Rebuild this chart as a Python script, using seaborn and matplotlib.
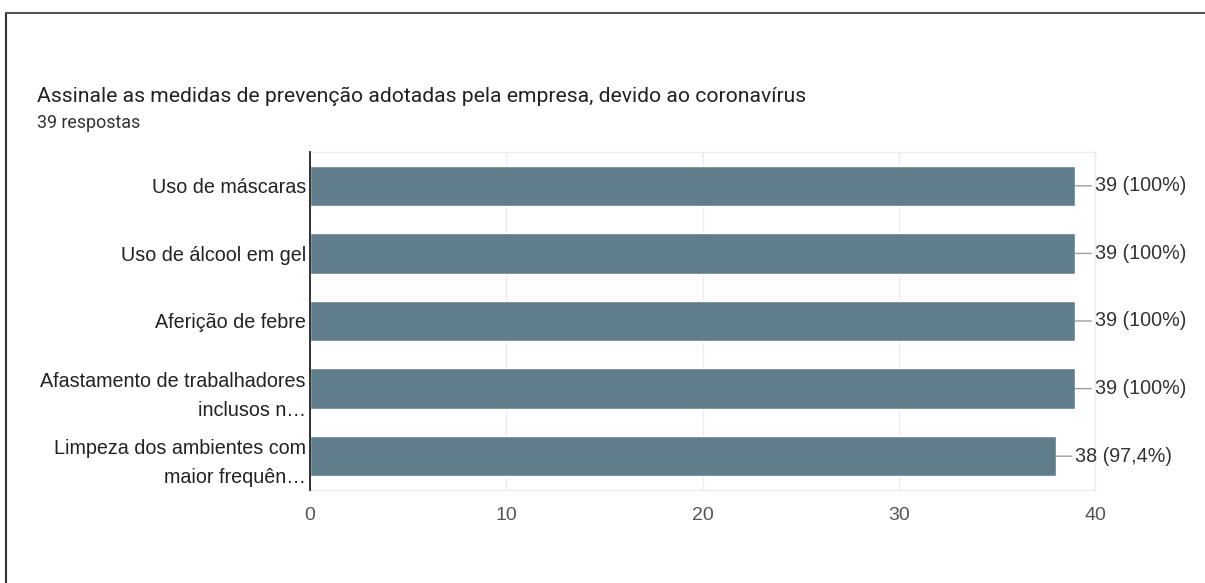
import matplotlib
matplotlib.use("Agg")
import matplotlib.pyplot as plt
import seaborn as sns
import pandas as pd
from matplotlib.lines import Line2D

title = "Assinale as medidas de prevenção adotadas pela empresa, devido ao coronavírus"
subtitle = "39 respostas"
total = 39
categories = [
    "Uso de máscaras",
    "Uso de álcool em gel",
    "Aferição de febre",
    "Afastamento de trabalhadores\ninclusos n…",
    "Limpeza dos ambientes com\nmaior frequên…",
]
counts = [39, 39, 39, 39, 38]
x_ticks = [0, 10, 20, 30, 40]

sns.set_theme(style="white")
plt.rcParams["font.family"] = ["Liberation Sans", "DejaVu Sans"]

df = pd.DataFrame({"medida": categories, "n": counts})

fig = plt.figure(figsize=(12.05, 5.83), dpi=100)
ax = fig.add_axes([310 / 1205, 1 - 490 / 583, 785 / 1205, 338 / 583])

bar_color = "#607d8b"
sns.barplot(data=df, x="n", y="medida", orient="h", color=bar_color,
            width=0.6, saturation=1, ax=ax)

ax.set_xlim(0, 40)
ax.set_ylim(len(categories) - 0.5, -0.5)
ax.set_xticks(x_ticks)
ax.set_xticklabels([str(t) for t in x_ticks])
ax.set_xlabel("")
ax.set_ylabel("")

# light vertical gridlines
for t in x_ticks[1:]:
    ax.axvline(t, color="#ebebeb", lw=1, zorder=0)

for side in ["top", "bottom", "right"]:
    ax.spines[side].set_color("#ebebeb")
    ax.spines[side].set_linewidth(1)
ax.spines["left"].set_color("#222222")
ax.spines["left"].set_linewidth(1.3)
ax.spines["left"].set_zorder(5)

ax.tick_params(axis="x", length=0, pad=12, labelsize=14, labelcolor="#555555")
ax.tick_params(axis="y", length=0, pad=3, labelsize=14.2, labelcolor="#222222")
for lab in ax.get_yticklabels():
    lab.set_horizontalalignment("right")
    lab.set_multialignment("right")
    lab.set_linespacing(1.68)

# value labels with leader lines
for i, v in enumerate(counts):
    pct = v / total * 100
    pct_txt = f"{pct:.0f}%" if abs(pct - round(pct)) < 1e-9 else f"{pct:.1f}%".replace(".", ",")
    ax.annotate(f"{v} ({pct_txt})", xy=(v, i), xytext=(14, 0), textcoords="offset points",
                ha="left", va="center", fontsize=14.2, color="#333333",
                arrowprops=dict(arrowstyle="-", color="#9e9e9e", lw=1,
                                shrinkA=0, shrinkB=0))

fig.text(37 / 1205, 1 - 96 / 583, title, fontsize=15.2, color="#222222",
         family=["Roboto", "DejaVu Sans"], va="center", ha="left")
fig.text(37 / 1205, 1 - 123 / 583, subtitle, fontsize=12.9, color="#333333",
         family=["Roboto", "DejaVu Sans"], va="center", ha="left")

# outer frame lines (left and top)
fig.add_artist(Line2D([6 / 1205, 6 / 1205], [0, 1 - 13 / 583], transform=fig.transFigure,
                      color="#333333", lw=1.5))
fig.add_artist(Line2D([6 / 1205, 1], [1 - 13 / 583, 1 - 13 / 583], transform=fig.transFigure,
                      color="#555555", lw=1.5))

fig.savefig("out.png", dpi=100)
